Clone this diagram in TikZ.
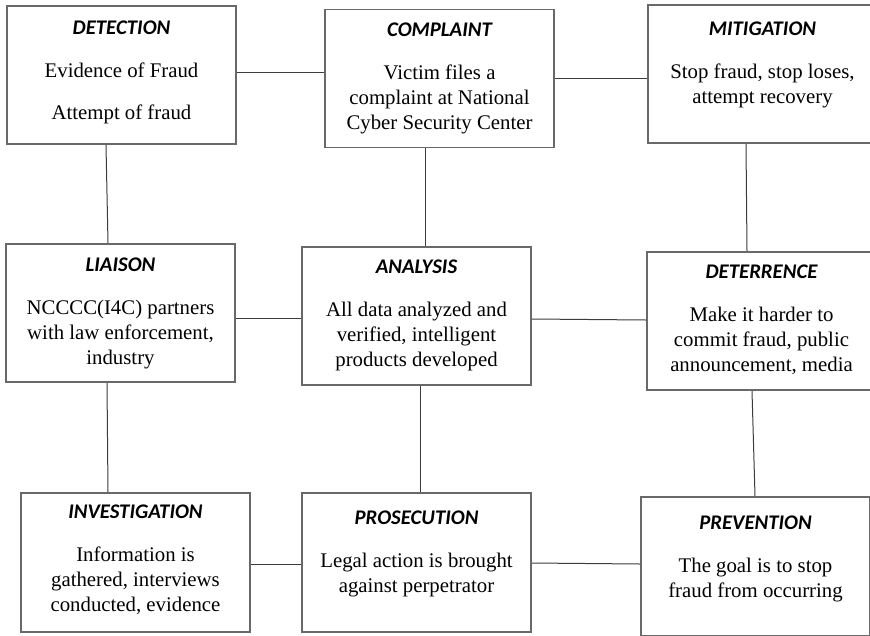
\documentclass[tikz,border=0pt]{standalone}
\usepackage{fontspec}
\setmainfont{Liberation Serif}
\newfontfamily\headfont{Carlito}
\usepackage{tikz}
\tikzset{stage/.style={draw=boxgray,line width=1.8pt,minimum width=229pt,minimum height=138pt,inner sep=0pt}}
\tikzset{stagetext/.style={anchor=base,inner sep=0pt,font=\fontsize{20.8}{25}\selectfont}}
\tikzset{link/.style={draw=linegray,line width=1pt}}
\definecolor{boxgray}{RGB}{105,105,105}
\definecolor{linegray}{RGB}{60,60,60}
\newcommand{\stagelabel}[2]{\begin{tabular}[t]{@{}c@{}}{\headfont\bfseries\itshape #1}\\[18pt]#2\end{tabular}}

\begin{document}
\begin{tikzpicture}[x=1pt,y=1pt]

\clip (0,0) rectangle (870,-635);

% top row
\node[stage] (detect) at (121.5,-75) {};
\node[stage] (complaint) at (439.5,-78.5) {};
\node[stage] (mitig) at (762.5,-74) {};

% middle row
\node[stage] (liaison) at (120.5,-313) {};
\node[stage] (analysis) at (416.5,-316) {};
\node[stage] (deter) at (761.5,-321) {};

% bottom row
\node[stage,minimum height=139pt] (investig) at (135.5,-562.5) {};
\node[stage,minimum height=139pt] (prosec) at (416.5,-562.5) {};
\node[stage,minimum height=139pt] (prevent) at (755.5,-566.5) {};

\node[stagetext] (detecttxt) at ([yshift=-29pt]detect.north) {\stagelabel{DETECTION}{Evidence of Fraud\\[17pt]Attempt of fraud}};
\node[stagetext] (complainttxt) at ([yshift=-28pt]complaint.north) {\stagelabel{COMPLAINT}{Victim files a\\complaint at National\\Cyber Security Center}};
\node[stagetext] (mitigtxt) at ([yshift=-31pt]mitig.north) {\stagelabel{MITIGATION}{Stop fraud, stop loses,\\attempt recovery}};
\node[stagetext] (liaisontxt) at ([yshift=-28pt]liaison.north) {\stagelabel{LIAISON}{NCCCC(I4C) partners\\with law enforcement,\\industry}};
\node[stagetext] (analysistxt) at ([yshift=-27pt]analysis.north) {\stagelabel{ANALYSIS}{All data analyzed and\\verified, intelligent\\products developed}};
\node[stagetext] (detertxt) at ([yshift=-27pt]deter.north) {\stagelabel{DETERRENCE}{Make it harder to\\commit fraud, public\\announcement, media}};
\node[stagetext] (investigtxt) at ([yshift=-26pt]investig.north) {\stagelabel{INVESTIGATION}{Information is\\gathered, interviews\\conducted, evidence}};
\node[stagetext] (prosectxt) at ([yshift=-32pt]prosec.north) {\stagelabel{PROSECUTION}{Legal action is brought\\against perpetrator}};
\node[stagetext] (preventtxt) at ([yshift=-33pt]prevent.north) {\stagelabel{PREVENTION}{The goal is to stop\\fraud from occurring}};

% connectors
\draw[link] ([yshift=3pt]detect.east) -- ([yshift=6.5pt]complaint.west);
\draw[link] ([yshift=0.5pt]complaint.east) -- ([yshift=-4pt]mitig.west);
\draw[link] ([xshift=-15.5pt]detect.south) -- ([xshift=-12.5pt]liaison.north);
\draw[link] ([xshift=-14.5pt]complaint.south) -- ([xshift=8.5pt]analysis.north);
\draw[link] ([xshift=-16.5pt]mitig.south) -- ([xshift=-14.5pt]deter.north);
\draw[link] ([yshift=-5pt]liaison.east) -- ([yshift=-2pt]analysis.west);
\draw[link] ([yshift=-3pt]analysis.east) -- ([yshift=1pt]deter.west);
\draw[link] ([xshift=-13.5pt]liaison.south) -- ([xshift=-27.5pt]investig.north);
\draw[link] ([xshift=3.5pt]analysis.south) -- ([xshift=3.5pt]prosec.north);
\draw[link] ([xshift=-9.5pt]deter.south) -- ([xshift=-0.5pt]prevent.north);
\draw[link] ([yshift=-1.5pt]investig.east) -- ([yshift=-1.5pt]prosec.west);
\draw[link] ([yshift=-0.5pt]prosec.east) -- ([yshift=2.5pt]prevent.west);

\end{tikzpicture}
\end{document}
